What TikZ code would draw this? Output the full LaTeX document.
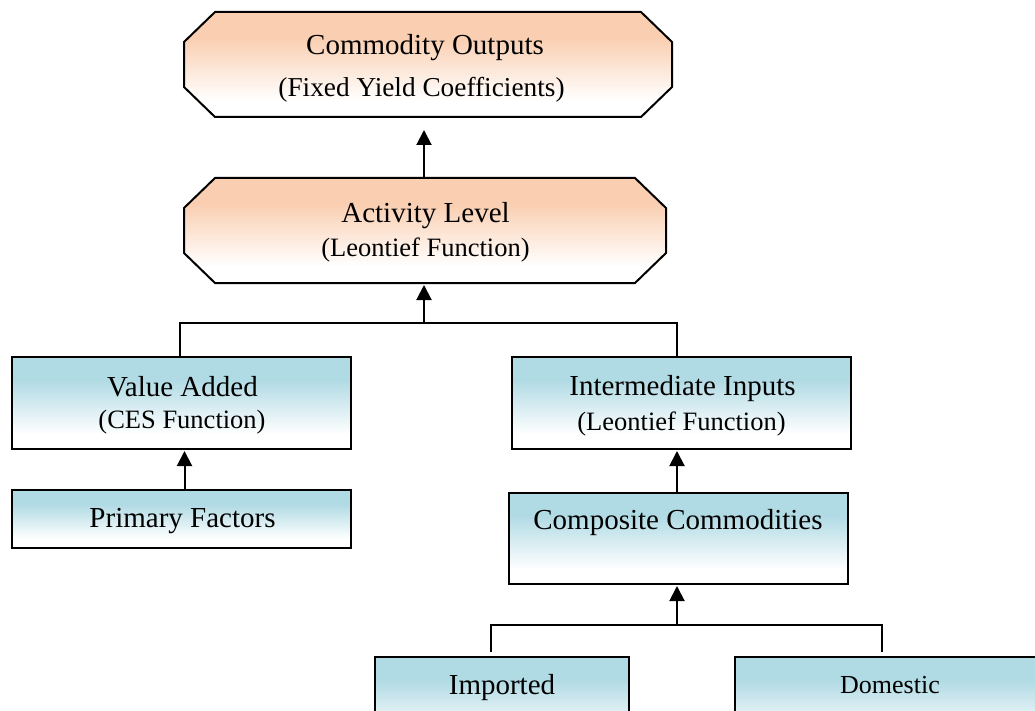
\documentclass[tikz,border=0pt]{standalone}
\usepackage{fontspec}
\setmainfont{Liberation Serif}
\usetikzlibrary{arrows.meta}

\definecolor{peachc}{RGB}{250,206,176}
\definecolor{bluec}{RGB}{176,218,228}

% vertical fades: solid colour at the top, white at the bottom
\pgfdeclareverticalshading{peachfade}{100bp}{color(0bp)=(white); color(33bp)=(white); color(63bp)=(peachc); color(100bp)=(peachc)}
\pgfdeclareverticalshading{bluefade}{100bp}{color(0bp)=(white); color(33bp)=(white); color(63bp)=(bluec); color(100bp)=(bluec)}

\tikzset{
  octframe/.style={rectangle, inner sep=0pt, outer sep=0pt},
  octfill/.style={draw=black, line width=2pt, line join=miter, shading=peachfade},
  sqbox/.style={rectangle, draw=black, line width=2pt, inner sep=0pt, outer sep=0pt, shading=bluefade},
  maintxt/.style={inner sep=0pt, anchor=base, font=\fontsize{29}{34}\selectfont},
  subtxt/.style={inner sep=0pt, anchor=base, font=\fontsize{26.5}{31}\selectfont},
  conn/.style={draw=black, line width=2pt},
  arr/.style={conn, -{Triangle[width=15pt,length=15pt]}}
}

\begin{document}
\begin{tikzpicture}[x=1pt,y=-1pt]
\useasboundingbox (0,0) rectangle (1035,711);
\clip (0,0) rectangle (1035,711);

% octagonal boxes: frames as nodes, outlines cut at the corners
\node[octframe, minimum width=488pt, minimum height=105pt] (out) at (428,64.5) {};
\node[octframe, minimum width=482pt, minimum height=105pt] (act) at (425,230.5) {};
\foreach \n in {out,act}{
  \path[octfill]
    ([xshift=31pt]\n.north west) -- ([xshift=-31pt]\n.north east)
    -- ([yshift=-30pt]\n.north east) -- ([yshift=30pt]\n.south east)
    -- ([xshift=-31pt]\n.south east) -- ([xshift=31pt]\n.south west)
    -- ([yshift=30pt]\n.south west) -- ([yshift=-30pt]\n.north west) -- cycle;
}

% rectangular boxes
\node[sqbox, minimum width=339pt, minimum height=92pt] (va) at (181.5,403) {};
\node[sqbox, minimum width=339pt, minimum height=92pt] (ii) at (681.5,403) {};
\node[sqbox, minimum width=339pt, minimum height=58pt] (pf) at (181.5,519) {};
\node[sqbox, minimum width=339pt, minimum height=91pt] (cc) at (678.5,538.5) {};
\node[sqbox, minimum width=254pt, minimum height=92pt] (imp) at (502,703) {};
\node[sqbox, minimum width=310pt, minimum height=92pt] (dom) at (890,703) {};

% labels
\node[maintxt] (outA) at (425,55) {Commodity Outputs};
\node[subtxt, font=\fontsize{27.3}{32}\selectfont] (outB) at (421.5,97) {(Fixed Yield Coefficients)};
\node[maintxt] (actA) at (425.5,223) {Activity Level};
\node[subtxt]  (actB) at (425.5,257) {(Leontief Function)};
\node[maintxt] (vaA) at (182.5,396) {Value Added};
\node[subtxt]  (vaB) at (182,428.5) {(CES Function)};
\node[maintxt] (iiA) at (682.5,395) {Intermediate Inputs};
\node[subtxt]  (iiB) at (681.5,430.5) {(Leontief Function)};
\node[maintxt] (pfA) at (182.5,527) {Primary Factors};
\node[maintxt] (ccA) at (678,529.5) {Composite Commodities};
\node[maintxt] (impA) at (502,694) {Imported};
\node[font=\fontsize{26}{31}\selectfont, inner sep=0pt, anchor=base] (domA) at (890,693) {Domestic};

% bus junctions
\coordinate (b1) at (424,323);
\coordinate (b1l) at (180,323);
\coordinate (b1r) at (677,323);
\coordinate (b2) at (677,625);
\coordinate (b2l) at (491,625);
\coordinate (b2r) at (882,625);

% connectors
\draw[arr, shorten >=13pt] (act.north -| b1) -- (out.south -| b1);
\draw[conn] (va.north -| b1l) -- (b1l) -- (b1r) -- (ii.north -| b1r);
\draw[arr, shorten >=2pt] (b1) -- (act.south -| b1);
\draw[arr, shorten >=2pt] ([xshift=3pt]pf.north) -- ([xshift=3pt]va.south);
\draw[arr, shorten >=2pt] (cc.north -| b2) -- (ii.south -| b2);
\draw[conn] ([yshift=5pt]imp.north -| b2l) -- (b2l) -- (b2r) -- ([yshift=5pt]dom.north -| b2r);
\draw[arr, shorten >=2pt] (b2) -- (cc.south -| b2);
\end{tikzpicture}
\end{document}
